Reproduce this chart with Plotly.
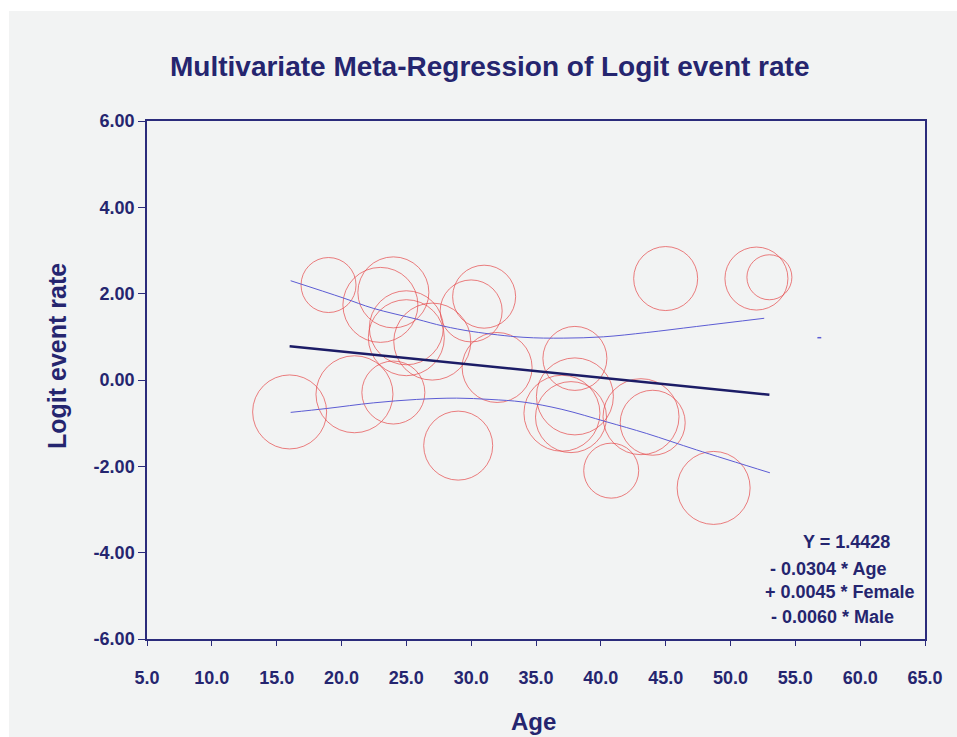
import plotly.graph_objects as go

# ---- data ----
study_age = [16.0, 19.0, 23.0, 24.0, 25.0, 25.0, 27.0, 30.0, 31.0, 32.0, 21.0, 24.0,
             29.0, 45.0, 52.0, 53.0, 38.0, 38.0, 37.0, 37.7, 43.1, 44.0, 40.8, 48.7]
study_logit = [-0.74, 2.20, 1.74, 2.03, 1.21, 0.98, 0.89, 1.60, 1.93, 0.29, -0.33, -0.29,
               -1.52, 2.35, 2.35, 2.38, 0.50, -0.38, -0.77, -0.86, -0.85, -0.99, -2.10, -2.50]
study_size = [74, 55, 75, 71, 74, 76, 77, 62, 63, 70, 77, 63,
              69, 64, 63, 45, 64, 77, 76, 71, 76, 65, 55, 73]

reg_age = [16.0, 53.0]
reg_logit = [0.78, -0.34]

upper_age = [16.08, 20.14, 22.45, 25.79, 27.84, 30.15, 34.0, 37.1, 40.19, 43.54, 47.39, 52.6]
upper_logit = [2.30, 1.90, 1.66, 1.41, 1.25, 1.12, 0.99, 0.97, 1.00, 1.10, 1.24, 1.43]

lower_age = [16.08, 18.86, 22.45, 25.8, 28.88, 31.45, 34.0, 37.0, 40.45, 43.54, 47.39, 53.04]
lower_logit = [-0.75, -0.66, -0.53, -0.45, -0.42, -0.45, -0.51, -0.68, -0.97, -1.24, -1.62, -2.15]

stray_age = [56.7, 57.0]
stray_logit = [0.98, 0.98]

x_ticks = [5, 10, 15, 20, 25, 30, 35, 40, 45, 50, 55, 60, 65]
x_labels = ["5.0", "10.0", "15.0", "20.0", "25.0", "30.0", "35.0", "40.0", "45.0",
            "50.0", "55.0", "60.0", "65.0"]
y_ticks = [6, 4, 2, 0, -2, -4, -6]
y_labels = ["6.00", "4.00", "2.00", "0.00", "-2.00", "-4.00", "-6.00"]

title_text = "Multivariate Meta-Regression of Logit event rate"
x_title = "Age"
y_title = "Logit event rate"
equation_lines = ["Y = 1.4428", "- 0.0304 * Age", "+ 0.0045 * Female", "- 0.0060 * Male"]

# ---- styling ----
NAVY = "#25256f"
AXIS = "#2b2b7b"
RED = "#e5484a"
CI = "#5c5cd4"
BG = "#f2f3f3"
FONT = "Liberation Sans, Arial, sans-serif"

W, H = 957, 737
L, R, T, B = 147, 32, 121, 98
PW, PH = W - L - R, H - T - B


def px_to_paper(px, py):
    return (px - L) / PW, (H - B - py) / PH


fig = go.Figure()

fig.add_trace(go.Scatter(
    x=study_age, y=study_logit, mode="markers",
    marker=dict(symbol="circle-open", size=study_size, color=RED, line=dict(width=1, color=RED)),
    showlegend=False, hoverinfo="x+y"))

fig.add_trace(go.Scatter(x=upper_age, y=upper_logit, mode="lines",
                         line=dict(color=CI, width=1, shape="spline"), showlegend=False))
fig.add_trace(go.Scatter(x=lower_age, y=lower_logit, mode="lines",
                         line=dict(color=CI, width=1, shape="spline"), showlegend=False))
fig.add_trace(go.Scatter(x=reg_age, y=reg_logit, mode="lines",
                         line=dict(color="#1c1c66", width=2.5), showlegend=False))
fig.add_trace(go.Scatter(x=stray_age, y=stray_logit, mode="lines",
                         line=dict(color=CI, width=1.5), showlegend=False))

tick_font = dict(family=FONT, size=18, color=NAVY, weight="bold")

fig.update_xaxes(range=[5, 65], tickvals=x_ticks, ticktext=x_labels, tickfont=tick_font,
                 ticks="outside", ticklen=5, tickcolor=AXIS, tickwidth=1.2,
                 showline=True, linecolor=AXIS, linewidth=1.5, mirror=True,
                 showgrid=False, zeroline=False, ticklabelstandoff=17)
fig.update_yaxes(range=[-6, 6], tickvals=y_ticks, ticktext=y_labels, tickfont=tick_font,
                 ticks="outside", ticklen=7, tickcolor=AXIS, tickwidth=1.2,
                 showline=True, linecolor=AXIS, linewidth=1.5, mirror=True,
                 showgrid=False, zeroline=False)

annotations = []
tx, ty = px_to_paper(489, 66)
annotations.append(dict(text=title_text, x=tx, y=ty, xref="paper", yref="paper",
                        xanchor="center", yanchor="middle", showarrow=False,
                        font=dict(family=FONT, size=28, color=NAVY, weight="bold")))
ax, ay = px_to_paper(533, 721)
annotations.append(dict(text=x_title, x=ax, y=ay, xref="paper", yref="paper",
                        xanchor="center", yanchor="middle", showarrow=False,
                        font=dict(family=FONT, size=24, color=NAVY, weight="bold")))
bx, by = px_to_paper(57, 356)
annotations.append(dict(text=y_title, x=bx, y=by, xref="paper", yref="paper",
                        xanchor="center", yanchor="middle", showarrow=False, textangle=-90,
                        font=dict(family=FONT, size=25, color=NAVY, weight="bold")))
eq_pos = [(846, 542), (828, 569), (840, 592), (832, 617)]
for line, (ex, ey) in zip(equation_lines, eq_pos):
    px_, py_ = px_to_paper(ex, ey)
    annotations.append(dict(text=line, x=px_, y=py_, xref="paper", yref="paper",
                            xanchor="center", yanchor="middle", showarrow=False,
                            font=dict(family=FONT, size=18, color=NAVY, weight="bold")))

gx0, gy1 = px_to_paper(9, 11)
gx1, gy0 = px_to_paper(W + 20, H + 20)
shapes = [dict(type="rect", xref="paper", yref="paper", x0=gx0, x1=gx1, y0=gy0, y1=gy1,
               fillcolor=BG, line=dict(width=0), layer="below")]

fig.update_layout(width=W, height=H, margin=dict(l=L, r=R, t=T, b=B),
                  paper_bgcolor="white", plot_bgcolor=BG,
                  annotations=annotations, shapes=shapes, showlegend=False)

fig.write_html("out.html")
